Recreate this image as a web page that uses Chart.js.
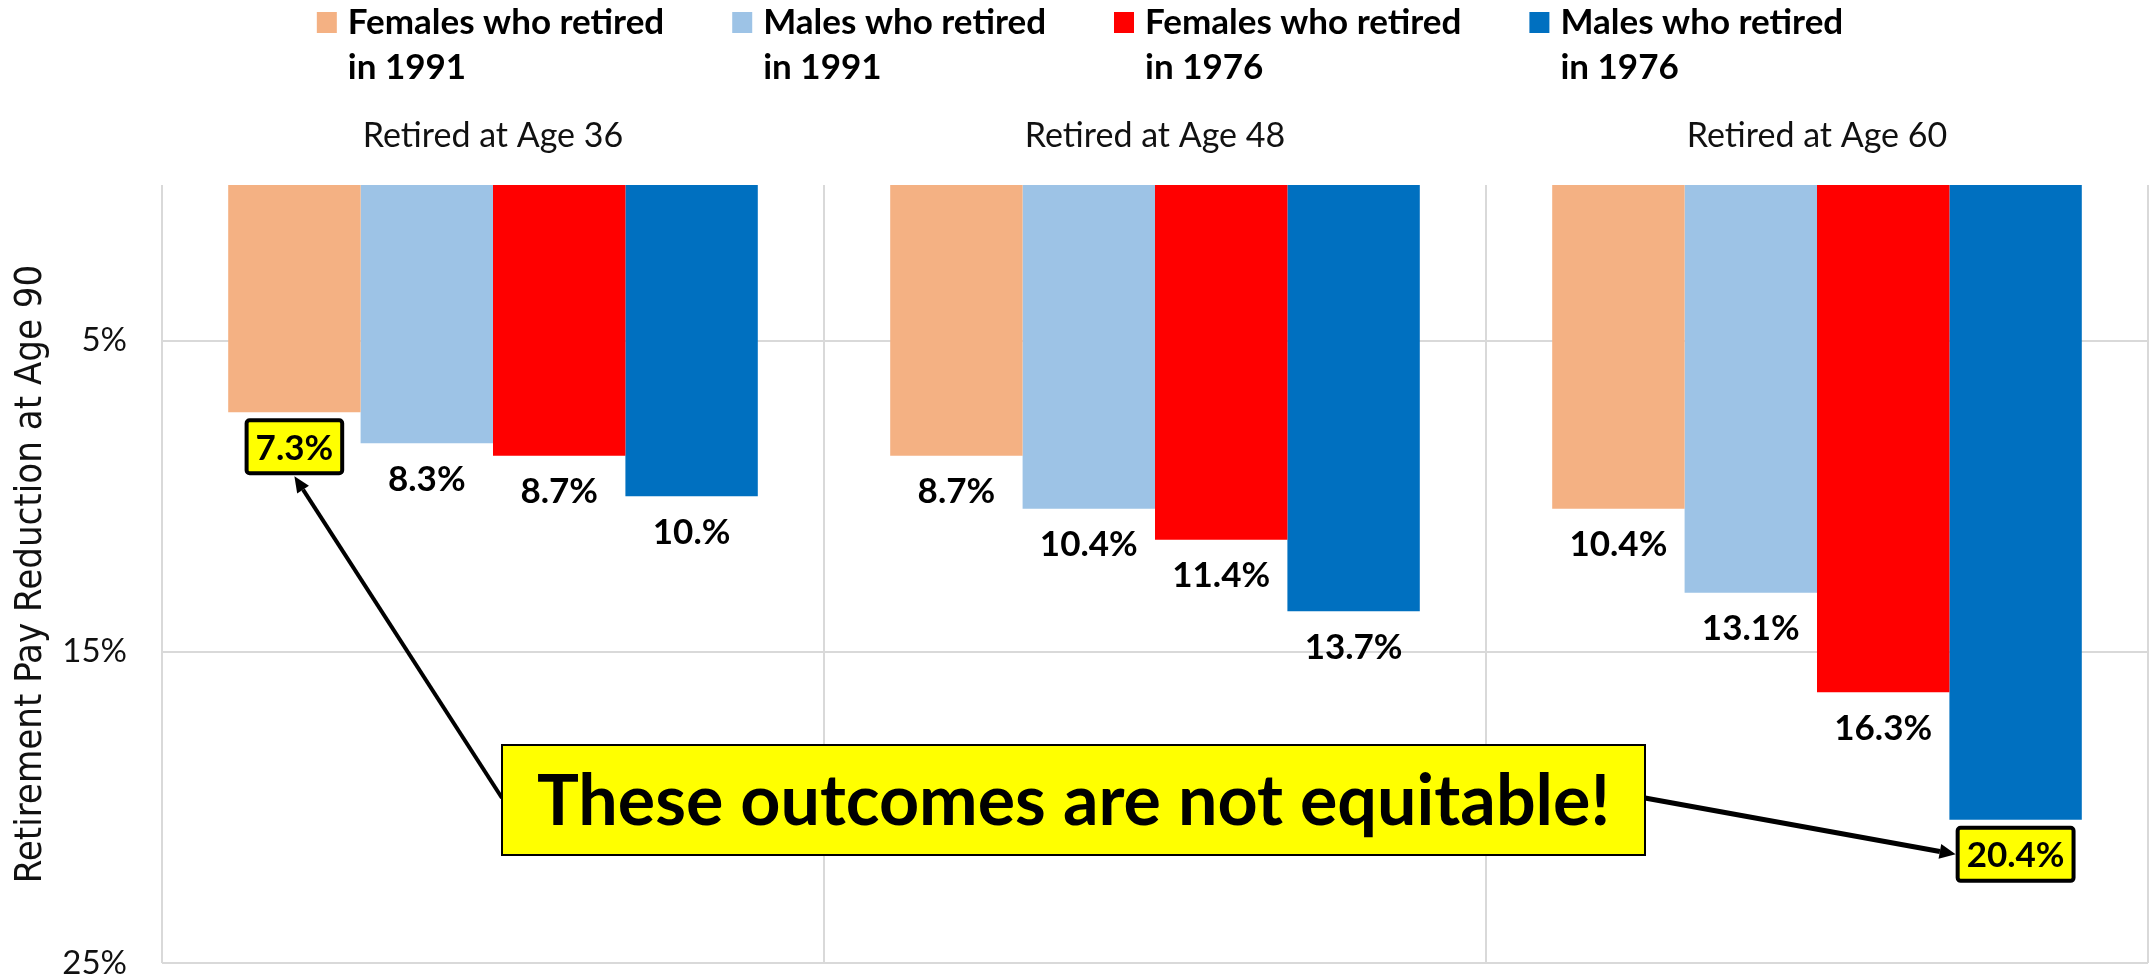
<!DOCTYPE html>
<html>
<head>
<meta charset="utf-8">
<title>Retirement Pay Reduction at Age 90</title>
<script src="https://cdn.jsdelivr.net/npm/chart.js@4.4.1/dist/chart.umd.min.js"></script>
<style>
  html, body { margin: 0; padding: 0; background: #ffffff; }
  #wrap { width: 2150px; height: 978px; position: relative; }
</style>
</head>
<body>
<div id="wrap"><canvas id="chart"></canvas></div>
<script>
// ---- data ----
const categories = ['Retired at Age 36', 'Retired at Age 48', 'Retired at Age 60'];
const seriesNames = [
  'Females who retired in 1991',
  'Males who retired in 1991',
  'Females who retired in 1976',
  'Males who retired in 1976'
];
const females1991 = [7.3, 8.7, 10.4];
const males1991   = [8.3, 10.4, 13.1];
const females1976 = [8.7, 11.4, 16.3];
const males1976   = [10.0, 13.7, 20.4];
const yTickValues = [5, 15, 25];
const calloutText = 'These outcomes are not equitable!';
// value labels shown in a yellow box: [series index, category index]
const highlighted = [[0, 0], [3, 2]];

// ---- styling ----
const seriesColors = ['#F4B183', '#9DC3E6', '#FF0000', '#0070C0'];
const TEXT = '#111111';
const GRID = '#d9d9d9';
const LABEL_FONT = 'bold 35px Lato';
const LABEL_BASELINE_GAP = 47.5;   // px from bar end to label baseline
const LABEL_BOX_CENTER_GAP = 34.5; // px from bar end to box centre
const callout = { x: 502, y: 745, w: 1143, h: 110, font: 'bold 70px Lato', baseline: 825, anchorY: 798 };

// Excel-style "0.#%" format: 10 -> "10.%", 7.3 -> "7.3%"
function fmtPct(v) {
  let s = String(Math.round(v * 10) / 10);
  if (s.indexOf('.') < 0) s += '.';
  return s + '%';
}
function isHighlighted(di, i) {
  return highlighted.some(h => h[0] === di && h[1] === i);
}

function drawArrow(ctx, x1, y1, x2, y2, lw, headLen, headW) {
  const a = Math.atan2(y2 - y1, x2 - x1);
  const bx = x2 - headLen * Math.cos(a), by = y2 - headLen * Math.sin(a);
  ctx.beginPath();
  ctx.moveTo(x1, y1);
  ctx.lineTo(bx, by);
  ctx.lineWidth = lw;
  ctx.strokeStyle = '#000';
  ctx.lineCap = 'butt';
  ctx.stroke();
  ctx.beginPath();
  ctx.moveTo(x2, y2);
  ctx.lineTo(bx + headW / 2 * Math.sin(a), by - headW / 2 * Math.cos(a));
  ctx.lineTo(bx - headW / 2 * Math.sin(a), by + headW / 2 * Math.cos(a));
  ctx.closePath();
  ctx.fillStyle = '#000';
  ctx.fill();
}

// value labels under each bar end
const valueLabels = {
  id: 'valueLabels',
  afterDatasetsDraw(chart) {
    const ctx = chart.ctx;
    const boxes = {};
    ctx.save();
    ctx.font = LABEL_FONT;
    ctx.textAlign = 'center';
    ctx.textBaseline = 'alphabetic';
    chart.data.datasets.forEach((ds, di) => {
      const meta = chart.getDatasetMeta(di);
      meta.data.forEach((bar, i) => {
        const txt = fmtPct(ds.data[i]);
        const cx = bar.x;
        if (isHighlighted(di, i)) {
          const w = ctx.measureText(txt).width + 18, h = 53;
          const cy = bar.y + LABEL_BOX_CENTER_GAP;
          ctx.beginPath();
          ctx.roundRect(cx - w / 2, cy - h / 2, w, h, 3);
          ctx.fillStyle = '#FFFF00';
          ctx.fill();
          ctx.lineWidth = 4;
          ctx.strokeStyle = '#000';
          ctx.stroke();
          boxes[di + '-' + i] = { left: cx - w / 2 - 2, right: cx + w / 2 + 2, top: cy - h / 2 - 2, bottom: cy + h / 2 + 2, cx: cx, cy: cy };
        }
        ctx.fillStyle = '#000';
        ctx.fillText(txt, cx, bar.y + LABEL_BASELINE_GAP);
      });
    });
    ctx.restore();
    chart.$labelBoxes = boxes;
  }
};

// callout box with arrows to the highlighted labels
const calloutPlugin = {
  id: 'callout',
  afterDraw(chart) {
    const ctx = chart.ctx;
    const boxes = chart.$labelBoxes || {};
    const first = boxes[highlighted[0][0] + '-' + highlighted[0][1]];
    const last = boxes[highlighted[1][0] + '-' + highlighted[1][1]];
    ctx.save();
    if (first) drawArrow(ctx, callout.x, callout.anchorY, first.cx, first.bottom + 1, 4, 16, 14);
    if (last) drawArrow(ctx, callout.x + callout.w, callout.anchorY, last.left, last.cy, 5, 16, 15);
    ctx.fillStyle = '#FFFF00';
    ctx.fillRect(callout.x, callout.y, callout.w, callout.h);
    ctx.lineWidth = 2;
    ctx.strokeStyle = '#000';
    ctx.strokeRect(callout.x, callout.y, callout.w, callout.h);
    ctx.font = callout.font;
    ctx.fillStyle = '#000';
    ctx.textAlign = 'center';
    ctx.textBaseline = 'alphabetic';
    ctx.fillText(calloutText, callout.x + callout.w / 2, callout.baseline);
    ctx.restore();
  }
};

// two-line legend across the top
const topLegend = {
  id: 'topLegend',
  afterDraw(chart) {
    const ctx = chart.ctx;
    ctx.save();
    ctx.font = 'bold 35px Lato';
    ctx.textAlign = 'left';
    ctx.textBaseline = 'alphabetic';
    const sw = 20, swGap = 11, itemGap = 68;
    const items = chart.data.datasets.map(ds => {
      const k = ds.label.lastIndexOf(' in ');
      const lines = [ds.label.slice(0, k), ds.label.slice(k + 1)];
      const tw = Math.max(...lines.map(l => ctx.measureText(l).width));
      return { lines, color: ds.backgroundColor, w: sw + swGap + tw };
    });
    const total = items.reduce((s, it) => s + it.w, 0) + itemGap * (items.length - 1);
    let x = chart.width / 2 + 5 - total / 2;
    items.forEach(it => {
      ctx.fillStyle = it.color;
      ctx.fillRect(x, 12, sw, 21);
      ctx.fillStyle = '#000';
      ctx.fillText(it.lines[0], x + sw + swGap, 34);
      ctx.fillText(it.lines[1], x + sw + swGap, 79);
      x += it.w + itemGap;
    });
    ctx.restore();
  }
};

const seriesData = [females1991, males1991, females1976, males1976];

new Chart(document.getElementById('chart'), {
  type: 'bar',
  data: {
    labels: categories,
    datasets: seriesData.map((d, k) => ({
      label: seriesNames[k],
      data: d,
      backgroundColor: seriesColors[k],
      borderWidth: 0,
      categoryPercentage: 0.8,
      barPercentage: 1.0
    }))
  },
  options: {
    responsive: true,
    maintainAspectRatio: false,
    animation: false,
    layout: { padding: { left: 0, right: 2, top: 0, bottom: 15 } },
    plugins: {
      legend: { display: false },
      tooltip: { enabled: false }
    },
    scales: {
      x: {
        position: 'top',
        grid: { offset: true, color: GRID, lineWidth: 2, drawTicks: false },
        border: { display: false },
        ticks: { font: { family: 'Lato', size: 34 }, color: TEXT, padding: 29 },
        afterFit(s) { s.height = 185; s.paddingLeft = 0; s.paddingRight = 0; }
      },
      y: {
        reverse: true,
        min: 0,
        max: 25,
        grid: { color: GRID, lineWidth: 2, drawTicks: false },
        border: { display: false },
        afterBuildTicks(s) { s.ticks = yTickValues.map(v => ({ value: v })); },
        ticks: { font: { family: 'Lato', size: 33 }, color: TEXT, padding: 35, callback: v => v + '%' },
        title: {
          display: true,
          text: 'Retirement Pay Reduction at Age 90',
          font: { family: 'DejaVu Sans Condensed', size: 38 },
          color: TEXT,
          padding: { top: 8, bottom: 0 }
        },
        afterFit(s) { s.width = 162; s.paddingTop = 0; s.paddingBottom = 0; }
      }
    }
  },
  plugins: [valueLabels, calloutPlugin, topLegend]
});
</script>
</body>
</html>
